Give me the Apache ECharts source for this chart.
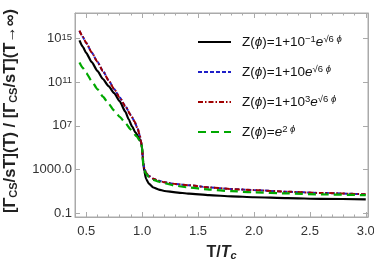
<!DOCTYPE html>
<html>
<head>
<meta charset="utf-8">
<script src="https://cdn.jsdelivr.net/npm/echarts@6/dist/echarts.min.js"></script>
<style>
html,body{margin:0;padding:0;background:#fff;}
#c{width:374px;height:266px;}
</style>
</head>
<body>
<div id="c"></div>
<script>
// ---- data ----
const seriesNames = [
  'Z(ϕ)=1+10^-1 e^(√6 ϕ)',
  'Z(ϕ)=1+10 e^(√6 ϕ)',
  'Z(ϕ)=1+10^3 e^(√6 ϕ)',
  'Z(ϕ)=e^(2ϕ)'
];
const tBlack = [0.44,0.47,0.5,0.55,0.6,0.65,0.7,0.75,0.8,0.85,0.88,0.91,0.94,0.97,0.99,1.0,1.005,1.01,1.02,1.035,1.06,1.1,1.15,1.2,1.3,1.42,1.6,1.8,2.0,2.3,2.6,3.0];
const vBlack = [7.1e14,1.8e14,5.0e13,7.1e12,1.1e12,2.0e11,4.5e10,1.0e10,1.8e9,2.0e8,4.0e7,8.9e6,2.5e6,8.9e5,3.2e5,1.0e5,2.0e4,4.0e3,7.1e2,1.4e2,50,22,14.1,10.5,7.9,5.9,4.3,3.4,2.8,2.3,2.0,1.8];

const tBlue = [0.44,0.47,0.5,0.55,0.6,0.65,0.7,0.75,0.8,0.85,0.9,0.93,0.96,0.98,0.99,1.0,1.005,1.01,1.02,1.035,1.06,1.1,1.15,1.2,1.3,1.42,1.6,1.8,2.0,2.3,2.6,3.0];
const vBlue = [5.3e15,1.45e15,4.1e14,5.5e13,7.6e12,1.07e12,1.55e11,2.4e10,4.0e9,6.3e8,9.5e7,2.8e7,5.6e6,1.26e6,4.0e5,8.0e4,1.6e4,4.0e3,1.26e3,5.0e2,2.5e2,1.4e2,89,66,45,35,22.4,15.8,12.6,8.9,6.9,5.2];

const tRed = [0.44,0.47,0.5,0.55,0.6,0.65,0.7,0.75,0.8,0.85,0.9,0.93,0.96,0.98,0.99,1.0,1.005,1.01,1.02,1.035,1.06,1.1,1.15,1.2,1.3,1.42,1.6,1.8,2.0,2.3,2.6,3.0];
const vRed = [5.5e15,1.5e15,4.2e14,5.5e13,7.6e12,1.07e12,1.55e11,2.4e10,4.0e9,6.3e8,9.5e7,2.8e7,5.6e6,1.26e6,4.0e5,8.0e4,1.6e4,4.0e3,1.26e3,5.0e2,2.5e2,1.4e2,89,66,45,35,22.4,15.8,12.6,8.9,6.9,5.2];

const tGreen = [0.44,0.47,0.5,0.55,0.6,0.65,0.7,0.75,0.8,0.85,0.9,0.95,0.98,0.99,1.0,1.005,1.01,1.02,1.035,1.06,1.1,1.15,1.2,1.3,1.4,1.6,1.8,2.0,2.3,2.6,3.0];
const vGreen = [6.6e12,2.1e12,7.2e11,1.26e11,2.4e10,4.8e9,1.07e9,2.6e8,6.8e7,1.8e7,4.5e6,1.12e6,4.5e5,2.8e5,1.0e5,1.26e4,2.5e3,7.9e2,4.0e2,2.0e2,1.12e2,74,54,32,23,14.1,10,7.9,6.3,5.1,4.3];

const xMajorTicks = [0.5,1.0,1.5,2.0,2.5,3.0];
const yMajorTicks = [0.1,1000,1e7,1e11,1e15];

// ---- chart ----
const zip = (a,b) => a.map((x,i)=>[x,b[i]]);
const FONT = "'Liberation Sans', Arial, sans-serif";
const GRAY = '#aaaaaa';
const X_MIN = 0.4, X_MAX = 3.02;
const Y_MIN = 0.0429, Y_MAX = 2.3e17;

const legendRich = {
  n:{fontSize:13.5,fontFamily:FONT,color:'#111',lineHeight:16},
  i:{fontSize:13.5,fontFamily:FONT,fontStyle:'italic',color:'#111',lineHeight:16},
  s:{fontSize:9.5,fontFamily:FONT,color:'#111',verticalAlign:'top',lineHeight:10},
  si:{fontSize:9.5,fontFamily:FONT,fontStyle:'italic',color:'#111',verticalAlign:'top',lineHeight:10}
};
const legendText = {};
legendText[seriesNames[0]] = '{n|Z(}{i|ϕ}{n|)=1+10}{s|−1}{i|e}{s|√6 }{si|ϕ}';
legendText[seriesNames[1]] = '{n|Z(}{i|ϕ}{n|)=1+10}{i|e}{s|√6 }{si|ϕ}';
legendText[seriesNames[2]] = '{n|Z(}{i|ϕ}{n|)=1+10}{s|3}{i|e}{s|√6 }{si|ϕ}';
legendText[seriesNames[3]] = '{n|Z(}{i|ϕ}{n|)=}{i|e}{s|2 }{si|ϕ}';

const tickStyle = {color: GRAY, width: 1};
function xAxisDef(pos, major, labels){
  return {
    type:'value', position:pos, min:X_MIN, max:X_MAX,
    interval: major ? undefined : 0.1,
    axisLine:{show: !major, lineStyle:{color:GRAY,width:1}},
    axisTick: major ? {inside:true,length:5,lineStyle:tickStyle,customValues:xMajorTicks}
                    : {inside:true,length:2.5,lineStyle:tickStyle},
    axisLabel: labels ? {customValues:xMajorTicks, formatter:v=>Number(v).toFixed(1), color:'#333', fontSize:13, fontFamily:FONT, margin:8}
                      : {show:false, customValues: major ? xMajorTicks : undefined},
    splitLine:{show:false},
    name: labels ? '{b|T/}{bi|T}{sub|c}' : '',
    nameLocation:'middle', nameGap: 27,
    nameTextStyle:{rich:{
      b:{fontSize:16,fontWeight:'bold',fontFamily:FONT,color:'#222'},
      bi:{fontSize:16,fontWeight:'bold',fontStyle:'italic',fontFamily:FONT,color:'#222'},
      sub:{fontSize:11,fontWeight:'bold',fontStyle:'italic',fontFamily:FONT,color:'#222',verticalAlign:'bottom',padding:[6,0,0,0]}
    }}
  };
}
function yLabel(v){
  const e = Math.round(Math.log10(v));
  if (e === -1) return '0.1';
  if (e === 3) return '1000.0';
  return '{b|10}{s|' + e + '}';
}
function yAxisDef(pos, labels){
  return {
    type:'log', logBase:10, position:pos, min:Y_MIN, max:Y_MAX,
    axisLine:{show:true, lineStyle:{color:GRAY,width:1}},
    axisTick:{inside:true,length:5,lineStyle:tickStyle,customValues:yMajorTicks},
    axisLabel: labels ? {customValues:yMajorTicks, formatter:yLabel, color:'#333', fontSize:13, fontFamily:FONT, margin:3,
                         rich:{b:{fontSize:13,fontFamily:FONT,color:'#333'}, s:{fontSize:9.5,fontFamily:FONT,color:'#333',verticalAlign:'top',lineHeight:10}}}
                      : {show:false, customValues:yMajorTicks},
    splitLine:{show:false},
    minorTick:{show:false},
    name: labels ? '[Γ{sub|CS}/sT](T) / [Γ{sub|CS}/sT](T→∞)' : '',
    nameLocation:'middle', nameRotate:90, nameGap:56,
    nameTextStyle:{fontSize:16.5,fontWeight:'bold',fontFamily:FONT,color:'#222',padding:[0,0,0,8],
      rich:{sub:{fontSize:11,fontWeight:'bold',fontFamily:FONT,color:'#222',verticalAlign:'bottom',padding:[5,0,0,0]}}}
  };
}

const chart = echarts.init(document.getElementById('c'), null, {renderer:'canvas'});
chart.setOption({
  animation:false,
  backgroundColor:'#fff',
  grid:{left:75, right:6, top:13, bottom:49, show:true, borderColor:GRAY, borderWidth:1, containLabel:false, outerBoundsMode:'none'},
  xAxis:[xAxisDef('bottom',false,false), xAxisDef('bottom',true,true), xAxisDef('top',false,false), xAxisDef('top',true,false)],
  yAxis:[yAxisDef('left',true), yAxisDef('right',false)],
  legend:{
    orient:'vertical', left:197, top:34, padding:0, itemWidth:33, itemHeight:14, itemGap:15,
    data:seriesNames,
    formatter:name=>legendText[name],
    itemStyle:{opacity:0},
    textStyle:{rich:legendRich, padding:[0,0,0,6]}
  },
  series:[
    {name:seriesNames[0], type:'line', data:zip(tBlack,vBlack), xAxisIndex:0, yAxisIndex:0, symbol:'none', smooth:0.2, smoothMonotone:'x',
     lineStyle:{color:'#000000', width:2.2}, itemStyle:{color:'rgba(0,0,0,0)'}, z:2},
    {name:seriesNames[1], type:'line', data:zip(tBlue,vBlue), xAxisIndex:0, yAxisIndex:0, symbol:'none', smooth:0.2, smoothMonotone:'x',
     lineStyle:{color:'#1f1fc8', width:2, type:[4,2]}, itemStyle:{color:'rgba(0,0,0,0)'}, z:3},
    {name:seriesNames[2], type:'line', data:zip(tRed,vRed), xAxisIndex:0, yAxisIndex:0, symbol:'none', smooth:0.2, smoothMonotone:'x',
     lineStyle:{color:'#a00000', width:2, type:[5,2,1.5,2]}, itemStyle:{color:'rgba(0,0,0,0)'}, z:4},
    {name:seriesNames[3], type:'line', data:zip(tGreen,vGreen), xAxisIndex:0, yAxisIndex:0, symbol:'none', smooth:0.2, smoothMonotone:'x',
     lineStyle:{color:'#00a800', width:2.2, type:[8,5]}, itemStyle:{color:'rgba(0,0,0,0)'}, z:5}
  ]
});
</script>
</body>
</html>
